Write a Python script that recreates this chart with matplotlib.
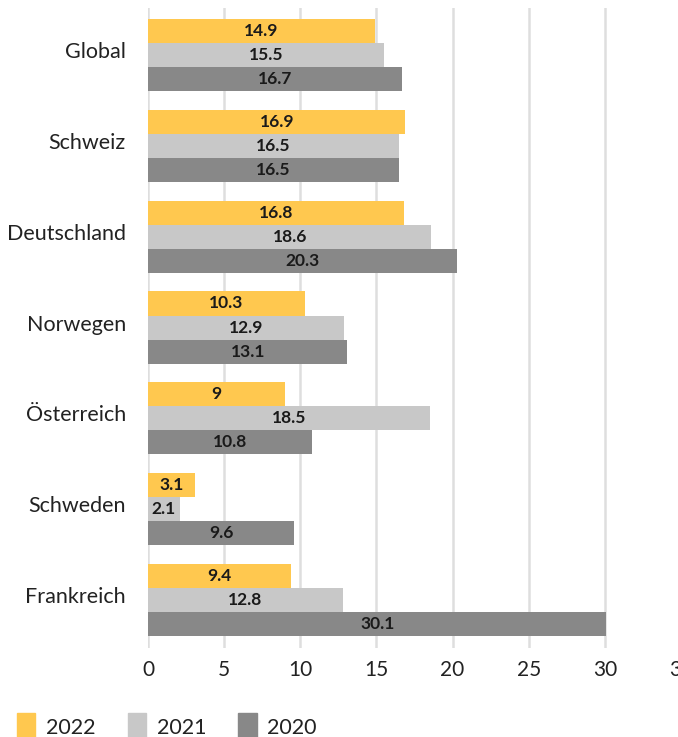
import numpy as np
import matplotlib.pyplot as plt
from matplotlib.patches import Patch
from matplotlib.transforms import ScaledTranslation

plt.rcParams['font.family'] = ['Lato', 'DejaVu Sans']

countries = ['Global', 'Schweiz', 'Deutschland', 'Norwegen', 'Österreich', 'Schweden', 'Frankreich']
vals_2022 = [14.9, 16.9, 16.8, 10.3, 9, 3.1, 9.4]
vals_2021 = [15.5, 16.5, 18.6, 12.9, 18.5, 2.1, 12.8]
vals_2020 = [16.7, 16.5, 20.3, 13.1, 10.8, 9.6, 30.1]
years = ['2022', '2021', '2020']
colors = ['#FFC84F', '#C8C8C8', '#888888']

fig = plt.figure(figsize=(6.78, 7.37), dpi=100)
ax = fig.add_axes([148 / 678, 1 - 648 / 737, 533 / 678, 640 / 737])

y = np.arange(len(countries))
h = 0.265
series = [vals_2022, vals_2021, vals_2020]
for i, (vals, c) in enumerate(zip(series, colors)):
    pos = y + (i - 1) * h
    ax.barh(pos, vals, height=h, color=c, zorder=2)
    for p, v in zip(pos, vals):
        ax.text(v / 2, p, f'{v:g}', ha='center', va='center',
                fontsize=12.5, fontweight='bold', color='#1a1a1a', zorder=3)

ax.set_xlim(0, 35)
ax.set_xticks(range(0, 36, 5))
ax.set_ylim(len(countries) - 0.47, -0.52)
ax.set_yticks(y)
ax.set_yticklabels(countries)
ax.grid(axis='x', color='#dedede', linewidth=1.8, zorder=0)
ax.tick_params(axis='y', length=0, pad=16, labelsize=15.5, labelcolor='#222222')
ax.tick_params(axis='x', length=0, pad=9, labelsize=15, labelcolor='#222222')
# nudge the country names up a little
shift = ScaledTranslation(0, 5 / 100, fig.dpi_scale_trans)
for lbl in ax.get_yticklabels():
    lbl.set_transform(lbl.get_transform() + shift)
for s in ax.spines.values():
    s.set_visible(False)

handles = [Patch(color=c, label=yr) for c, yr in zip(colors, years)]
fig.legend(handles=handles, loc='center left', bbox_to_anchor=(-0.004, 1 - 727 / 737),
           ncol=3, frameon=False, fontsize=15.5, handlelength=0.85, handleheight=1.6,
           handletextpad=0.5, columnspacing=1.5, labelcolor='#222222')

fig.savefig('out.png', dpi=100)
